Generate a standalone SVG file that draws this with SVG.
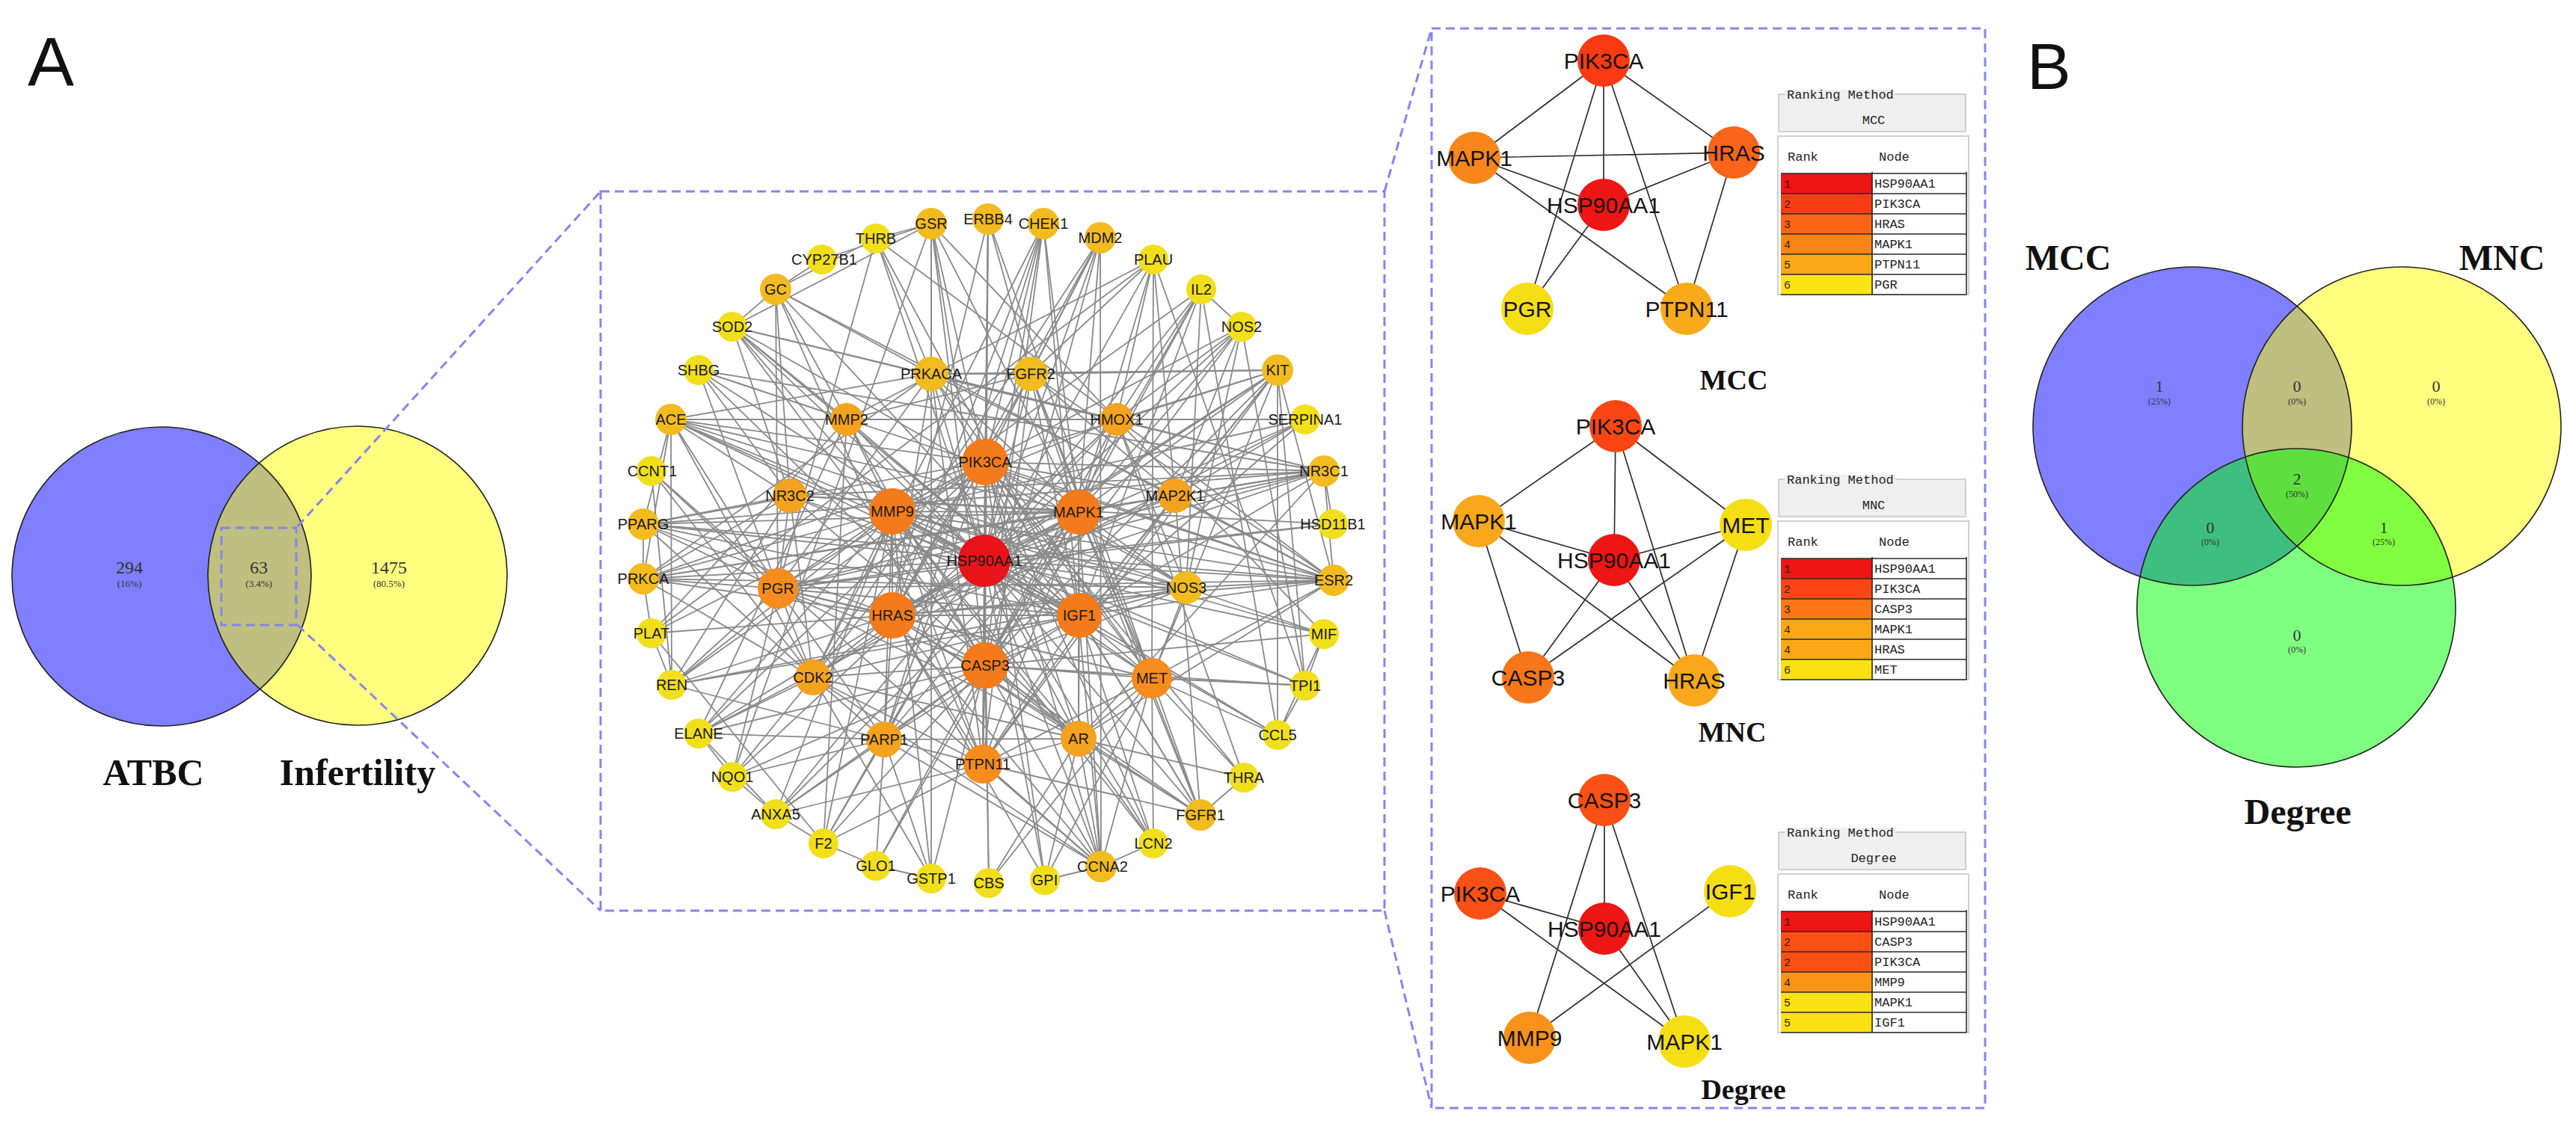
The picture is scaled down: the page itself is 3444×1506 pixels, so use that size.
<svg xmlns="http://www.w3.org/2000/svg" width="3444" height="1506" viewBox="0 0 3444 1506">
<style>
.edge{stroke:#8a8a8a;stroke-width:1.8;fill:none}
.sedge{stroke:#2e2e2e;stroke-width:1.7;fill:none}
.dash{fill:none;stroke:#8585ee;stroke-width:3;stroke-dasharray:12 7}
.nl{font-family:"Liberation Sans",Arial,sans-serif;font-size:20px;fill:#1a1a1a;text-anchor:middle}
.sl{font-family:"Liberation Sans",Arial,sans-serif;font-size:30px;fill:#141414;text-anchor:middle}
.ttl{font-family:"Liberation Serif","Times New Roman",serif;font-weight:bold;fill:#111;text-anchor:middle}
.big{font-family:"Liberation Sans",Arial,sans-serif;fill:#111}
.vn{font-family:"Liberation Serif","Times New Roman",serif;fill:#333;text-anchor:middle}
.tb{font-family:"Liberation Mono","Courier New",monospace;font-size:17px;fill:#222}
.tr{font-family:"Liberation Mono","Courier New",monospace;font-size:15px;fill:#3a1a00}
.tbox{fill:#efefef;stroke:#c4c4c4;stroke-width:1.5}
.tframe{fill:#fff;stroke:#d0d0d0;stroke-width:2}
.tline{stroke:#2a2a2a;stroke-width:1.6;fill:none}
.vo{fill:none;stroke:#222;stroke-width:1.6}
.red{fill:#e8141a}.o1{fill:#f47b1b}.o2{fill:#f58c1d}.o3{fill:#f4a31f}.g1{fill:#f2bb1f}.yl{fill:#f1df1c}
</style>
<rect width="3444" height="1506" fill="#fff"/>

<text class="big" x="37" y="115" font-size="93">A</text>
<text class="big" x="2710" y="119" font-size="88">B</text>

<!-- Venn A -->
<g id="venn-a">
<circle cx="216" cy="771" r="200" fill="#0000ff" fill-opacity="0.5"/>
<circle cx="478" cy="770" r="200" fill="#ffff00" fill-opacity="0.5"/>
<circle class="vo" cx="216" cy="771" r="200"/>
<circle class="vo" cx="478" cy="770" r="200"/>
<text class="vn" x="173" y="767" font-size="24">294</text>
<text class="vn" x="173" y="785" font-size="13">(16%)</text>
<text class="vn" x="346" y="767" font-size="24">63</text>
<text class="vn" x="346" y="785" font-size="13">(3.4%)</text>
<text class="vn" x="520" y="767" font-size="24">1475</text>
<text class="vn" x="520" y="785" font-size="13">(80.5%)</text>
<text class="ttl" x="205" y="1050" font-size="50">ATBC</text>
<text class="ttl" x="478" y="1050" font-size="50">Infertility</text>
</g>

<!-- callouts -->
<g id="callouts">
<rect class="dash" x="296" y="706" width="100" height="130"/>
<path class="dash" d="M398 704L803 256M398 836L803 1218"/>
<rect class="dash" x="803" y="256" width="1048" height="962"/>
<path class="dash" d="M1851 256L1914 38M1851 1218L1914 1482"/>
<rect class="dash" x="1914" y="38" width="740" height="1444"/>
</g>

<!-- network connectors -->
<g id="net-connectors" class="edge">
<path d="M1316 750L1317 618M1316 750L1193 684M1316 750L1442 685M1316 750L1193 823M1316 750L1443 823M1316 750L1317 890M1316 750L1040 787M1316 750L1540 907M1316 750L1314 1022M1316 750L1087 906M1316 750L1442 988M1316 750L1182 989M1316 750L1056 663M1316 750L1571 663M1316 750L1586 786M1316 750L1132 561M1316 750L1493 561M1316 750L1245 500M1316 750L1378 500M1316 750L1321 293M1316 750L1395 299M1316 750L1471 318M1316 750L1708 495M1316 750L1770 630M1316 750L1783 776M1316 750L860 701M1316 750L860 774M1316 750L897 561M1316 750L1245 299M1316 750L1605 1090M1316 750L1472 1159M1316 750L1397 1177M1316 750L1322 1181M1316 750L1542 1128M1316 750L934 981M1316 750L1660 437M1316 750L1606 387M1316 750L1542 347M1316 750L1745 561M1316 750L1745 917M1316 750L1770 848M1316 750L1101 1128M1316 750L1037 1089M1316 750L1782 701M1316 750L979 437M1316 750L1171 319"/>
<path d="M1317 618L1193 684M1317 618L1442 685M1317 618L1193 823M1317 618L1443 823M1317 618L1317 890M1317 618L1040 787M1317 618L1540 907M1317 618L1314 1022M1317 618L1087 906M1317 618L1442 988M1317 618L1182 989M1317 618L1571 663M1317 618L1586 786M1317 618L1245 500M1317 618L1378 500M1317 618L1321 293M1317 618L1708 495M1317 618L1783 776M1317 618L1605 1090M1317 618L1472 1159M1317 618L1770 630M1317 618L860 701M1317 618L860 774M1317 618L1245 299M1317 618L897 561M1317 618L1471 318M1317 618L1395 299M1317 618L1397 1177M1317 618L1542 1128M1317 618L898 916M1317 618L934 981M1317 618L1663 1040"/>
<path d="M1193 684L1442 685M1193 684L1193 823M1193 684L1443 823M1193 684L1317 890M1193 684L1040 787M1193 684L1540 907M1193 684L1314 1022M1193 684L1087 906M1193 684L1442 988M1193 684L1182 989M1193 684L1132 561M1193 684L1493 561M1193 684L1586 786M1193 684L897 561M1193 684L979 437M1193 684L934 981M1193 684L1037 1089M1193 684L1101 1128M1193 684L871 847M1193 684L898 916M1193 684L860 774M1193 684L1783 776M1193 684L1745 917M1193 684L1542 1128M1193 684L1708 983M1193 684L1606 387M1193 684L1660 437M1193 684L1745 561M1193 684L1770 848M1193 684L1245 1175"/>
<path d="M1442 685L1193 823M1442 685L1443 823M1442 685L1317 890M1442 685L1040 787M1442 685L1540 907M1442 685L1314 1022M1442 685L1087 906M1442 685L1442 988M1442 685L1182 989M1442 685L1571 663M1442 685L1586 786M1442 685L1245 500M1442 685L1378 500M1442 685L1493 561M1442 685L1783 776M1442 685L1770 630M1442 685L1708 495M1442 685L1605 1090M1442 685L1472 1159M1442 685L1245 299M1442 685L1471 318M1442 685L1395 299M1442 685L1542 347M1442 685L1606 387M1442 685L1660 437M1442 685L897 561M1442 685L860 701M1442 685L1056 663M1442 685L860 774M1442 685L1037 1089M1442 685L1171 1158"/>
<path d="M1193 823L1443 823M1193 823L1317 890M1193 823L1040 787M1193 823L1540 907M1193 823L1314 1022M1193 823L1087 906M1193 823L1442 988M1193 823L1182 989M1193 823L1571 663M1193 823L1586 786M1193 823L1245 500M1193 823L1378 500M1193 823L1708 495M1193 823L1783 776M1193 823L1605 1090M1193 823L1472 1159M1193 823L1321 293M1193 823L1471 318M1193 823L1395 299M1193 823L860 774M1193 823L860 701M1193 823L1770 630M1193 823L898 916M1193 823L871 847M1193 823L1397 1177"/>
<path d="M1443 823L1317 890M1443 823L1040 787M1443 823L1540 907M1443 823L1314 1022M1443 823L1087 906M1443 823L1442 988M1443 823L1182 989M1443 823L1571 663M1443 823L1586 786M1443 823L1056 663M1443 823L1378 500M1443 823L1783 776M1443 823L1708 495M1443 823L934 495M1443 823L897 561M1443 823L860 701M1443 823L1605 1090M1443 823L1132 561M1443 823L898 916M1443 823L1770 630M1443 823L1708 983M1443 823L1745 561M1443 823L1606 387M1443 823L1037 387M1443 823L1542 1128M1443 823L1171 319M1443 823L979 437"/>
<path d="M1317 890L1040 787M1317 890L1540 907M1317 890L1314 1022M1317 890L1087 906M1317 890L1442 988M1317 890L1182 989M1317 890L1132 561M1317 890L1493 561M1317 890L1586 786M1317 890L1245 1175M1317 890L1322 1181M1317 890L1171 1158M1317 890L1037 1089M1317 890L979 1039M1317 890L1101 1128M1317 890L934 981M1317 890L1745 917M1317 890L1770 848M1317 890L1395 299M1317 890L1471 318M1317 890L1321 293M1317 890L979 437M1317 890L1245 299M1317 890L1472 1159M1317 890L1605 1090M1317 890L1708 495M1317 890L1660 437M1317 890L1606 387"/>
<path d="M1040 787L1540 907M1040 787L1442 988M1040 787L1056 663M1040 787L1783 776M1040 787L860 701M1040 787L860 774M1040 787L934 495M1040 787L1770 630M1040 787L1171 319M1040 787L1087 906M1040 787L1182 989M1040 787L1245 500M1040 787L897 561M1040 787L871 630M1040 787L898 916M1040 787L1782 701M1040 787L1037 387M1040 787L979 1039"/>
<path d="M1540 907L1314 1022M1540 907L1442 988M1540 907L1605 1090M1540 907L1378 500M1540 907L1708 495M1540 907L1472 1159M1540 907L1542 1128M1540 907L1745 917M1540 907L1663 1040M1540 907L1708 983M1540 907L1783 776M1540 907L1586 786M1540 907L1245 500M1540 907L1321 293M1540 907L1542 347M1540 907L1397 1177M1540 907L1322 1181"/>
<path d="M1314 1022L1442 988M1314 1022L1087 906M1314 1022L1182 989M1314 1022L1708 495M1314 1022L1378 500M1314 1022L1605 1090M1314 1022L1321 293M1314 1022L1571 663M1314 1022L1245 500M1314 1022L1037 387M1314 1022L1472 1159M1314 1022L1037 1089M1314 1022L1101 1128"/>
<path d="M1087 906L1442 988M1087 906L1182 989M1087 906L1472 1159M1087 906L1395 299M1087 906L1471 318M1087 906L871 630M1087 906L934 981M1087 906L979 1039M1087 906L860 701M1087 906L860 774M1087 906L897 561M1087 906L1245 1175M1087 906L1056 663"/>
<path d="M1442 988L1182 989M1442 988L1783 776M1442 988L1770 630M1442 988L1472 1159M1442 988L1605 1090M1442 988L1663 1040M1442 988L1056 663M1442 988L1397 1177M1442 988L1322 1181M1442 988L1542 1128M1442 988L934 495"/>
<path d="M1182 989L1395 299M1182 989L1472 1159M1182 989L1245 1175M1182 989L1171 1158M1182 989L1101 1128M1182 989L979 1039M1182 989L1037 1089M1182 989L934 981M1182 989L898 916"/>
<path d="M1056 663L1770 630M1056 663L860 701M1056 663L860 774M1056 663L897 561M1056 663L934 495M1056 663L898 916M1056 663L1782 701M1056 663L979 437M1056 663L1037 387"/>
<path d="M1571 663L1245 500M1571 663L1378 500M1571 663L1708 495M1571 663L1783 776M1571 663L1770 630M1571 663L860 774M1571 663L1605 1090M1571 663L1542 347M1571 663L1660 437M1571 663L1745 561"/>
<path d="M1586 786L1660 437M1586 786L1493 561M1586 786L897 561M1586 786L898 916M1586 786L1783 776M1586 786L860 774M1586 786L979 437M1586 786L1606 387M1586 786L1770 848"/>
<path d="M1132 561L1542 347M1132 561L1745 561M1132 561L897 561M1132 561L934 981M1132 561L1101 1128M1132 561L871 847M1132 561L1378 500M1132 561L934 495M1132 561L979 437M1132 561L1037 387"/>
<path d="M1493 561L1660 437M1493 561L1606 387M1493 561L979 437M1493 561L979 1039M1493 561L1245 299M1493 561L1542 347M1493 561L1708 495M1493 561L1770 848M1493 561L1663 1040"/>
<path d="M1245 500L860 774M1245 500L1245 299M1245 500L1171 319M1245 500L1378 500M1245 500L1708 495M1245 500L1037 387M1245 500L897 561M1245 500L1770 630"/>
<path d="M1378 500L1605 1090M1378 500L1321 293M1378 500L1708 495M1378 500L1542 347M1378 500L1783 776M1378 500L1471 318"/>
<path d="M1037 387L1099 347M1037 387L1171 319M1037 387L979 437M1099 347L1245 299M1171 319L1245 299M979 437L1245 299M897 561L860 701M897 561L898 916M897 561L860 774M860 701L860 774M871 630L898 916M860 774L871 847M934 981L979 1039M979 1039L1037 1089M1037 1089L1101 1128M1101 1128L1171 1158M1101 1128L871 847M1397 1177L1472 1159M1472 1159L1542 1128M1770 848L1745 917M1745 917L1708 983M1708 983L1770 848M1770 630L1782 701M1770 630L1783 776M1606 387L1708 983M1606 387L1660 437M1745 561L934 981M1542 347L871 847M1708 495L1708 983M1708 495L1783 776M1708 495L1745 917M1245 299L1245 1175M1245 299L979 1039M1660 437L1745 917M1542 347L1745 917M1471 318L1472 1159M1395 299L1472 1159M934 495L1783 776M934 495L1770 630M1037 387L1783 776M1171 319L1783 776M979 437L1770 630M871 630L1472 1159M860 701L1783 776M860 701L1770 630M1171 1158L1245 1175M934 981L1037 1089M898 916L871 847M1663 1040L1605 1090"/>
</g>

<!-- network nodes -->
<g id="net-nodes">
<g id="n-GSR"><circle class="g1" cx="1245" cy="299" r="21"/><text class="nl" x="1245" y="306">GSR</text></g>
<g id="n-ERBB4"><circle class="g1" cx="1321" cy="293" r="21"/><text class="nl" x="1321" y="300">ERBB4</text></g>
<g id="n-CHEK1"><circle class="g1" cx="1395" cy="299" r="21"/><text class="nl" x="1395" y="306">CHEK1</text></g>
<g id="n-THRB"><circle class="yl" cx="1171" cy="319" r="20"/><text class="nl" x="1171" y="326">THRB</text></g>
<g id="n-MDM2"><circle class="g1" cx="1471" cy="318" r="21"/><text class="nl" x="1471" y="325">MDM2</text></g>
<g id="n-CYP27B1"><circle class="yl" cx="1099" cy="347" r="20"/><text class="nl" x="1102" y="354">CYP27B1</text></g>
<g id="n-PLAU"><circle class="yl" cx="1542" cy="347" r="20"/><text class="nl" x="1542" y="354">PLAU</text></g>
<g id="n-GC"><circle class="g1" cx="1037" cy="387" r="21"/><text class="nl" x="1037" y="394">GC</text></g>
<g id="n-IL2"><circle class="yl" cx="1606" cy="387" r="20"/><text class="nl" x="1606" y="394">IL2</text></g>
<g id="n-SOD2"><circle class="yl" cx="979" cy="437" r="20"/><text class="nl" x="979" y="444">SOD2</text></g>
<g id="n-NOS2"><circle class="yl" cx="1660" cy="437" r="20"/><text class="nl" x="1660" y="444">NOS2</text></g>
<g id="n-SHBG"><circle class="yl" cx="934" cy="495" r="20"/><text class="nl" x="934" y="502">SHBG</text></g>
<g id="n-PRKACA"><circle class="g1" cx="1245" cy="500" r="23"/><text class="nl" x="1245" y="507">PRKACA</text></g>
<g id="n-FGFR2"><circle class="g1" cx="1378" cy="500" r="23"/><text class="nl" x="1378" y="507">FGFR2</text></g>
<g id="n-KIT"><circle class="g1" cx="1708" cy="495" r="21"/><text class="nl" x="1708" y="502">KIT</text></g>
<g id="n-ACE"><circle class="g1" cx="897" cy="561" r="21"/><text class="nl" x="897" y="568">ACE</text></g>
<g id="n-MMP2"><circle class="o3" cx="1132" cy="561" r="22"/><text class="nl" x="1132" y="568">MMP2</text></g>
<g id="n-HMOX1"><circle class="o3" cx="1493" cy="561" r="22"/><text class="nl" x="1493" y="568">HMOX1</text></g>
<g id="n-SERPINA1"><circle class="yl" cx="1745" cy="561" r="20"/><text class="nl" x="1745" y="568">SERPINA1</text></g>
<g id="n-CCNT1"><circle class="yl" cx="871" cy="630" r="20"/><text class="nl" x="872" y="637">CCNT1</text></g>
<g id="n-PIK3CA"><circle class="o1" cx="1317" cy="618" r="31"/><text class="nl" x="1317" y="625">PIK3CA</text></g>
<g id="n-NR3C1"><circle class="g1" cx="1770" cy="630" r="21"/><text class="nl" x="1770" y="637">NR3C1</text></g>
<g id="n-NR3C2"><circle class="o3" cx="1056" cy="663" r="23"/><text class="nl" x="1056" y="670">NR3C2</text></g>
<g id="n-MMP9"><circle class="o1" cx="1193" cy="684" r="31"/><text class="nl" x="1193" y="691">MMP9</text></g>
<g id="n-MAPK1"><circle class="o1" cx="1442" cy="685" r="30"/><text class="nl" x="1442" y="692">MAPK1</text></g>
<g id="n-MAP2K1"><circle class="o3" cx="1571" cy="663" r="23"/><text class="nl" x="1571" y="670">MAP2K1</text></g>
<g id="n-PPARG"><circle class="g1" cx="860" cy="701" r="21"/><text class="nl" x="860" y="708">PPARG</text></g>
<g id="n-HSD11B1"><circle class="yl" cx="1782" cy="701" r="20"/><text class="nl" x="1782" y="708">HSD11B1</text></g>
<g id="n-HSP90AA1"><circle class="red" cx="1316" cy="750" r="35"/><text class="nl" x="1316" y="757">HSP90AA1</text></g>
<g id="n-PRKCA"><circle class="g1" cx="860" cy="774" r="21"/><text class="nl" x="860" y="781">PRKCA</text></g>
<g id="n-PGR"><circle class="o2" cx="1040" cy="787" r="27"/><text class="nl" x="1040" y="794">PGR</text></g>
<g id="n-NOS3"><circle class="g1" cx="1586" cy="786" r="22"/><text class="nl" x="1586" y="793">NOS3</text></g>
<g id="n-ESR2"><circle class="g1" cx="1783" cy="776" r="21"/><text class="nl" x="1783" y="783">ESR2</text></g>
<g id="n-HRAS"><circle class="o1" cx="1193" cy="823" r="31"/><text class="nl" x="1193" y="830">HRAS</text></g>
<g id="n-IGF1"><circle class="o1" cx="1443" cy="823" r="30"/><text class="nl" x="1443" y="830">IGF1</text></g>
<g id="n-PLAT"><circle class="yl" cx="871" cy="847" r="20"/><text class="nl" x="871" y="854">PLAT</text></g>
<g id="n-MIF"><circle class="yl" cx="1770" cy="848" r="20"/><text class="nl" x="1770" y="855">MIF</text></g>
<g id="n-CASP3"><circle class="o1" cx="1317" cy="890" r="31"/><text class="nl" x="1317" y="897">CASP3</text></g>
<g id="n-CDK2"><circle class="o3" cx="1087" cy="906" r="24"/><text class="nl" x="1087" y="913">CDK2</text></g>
<g id="n-MET"><circle class="o2" cx="1540" cy="907" r="27"/><text class="nl" x="1540" y="914">MET</text></g>
<g id="n-REN"><circle class="yl" cx="898" cy="916" r="20"/><text class="nl" x="898" y="923">REN</text></g>
<g id="n-TPI1"><circle class="yl" cx="1745" cy="917" r="20"/><text class="nl" x="1745" y="924">TPI1</text></g>
<g id="n-ELANE"><circle class="yl" cx="934" cy="981" r="20"/><text class="nl" x="934" y="988">ELANE</text></g>
<g id="n-PARP1"><circle class="o3" cx="1182" cy="989" r="24"/><text class="nl" x="1182" y="996">PARP1</text></g>
<g id="n-AR"><circle class="o3" cx="1442" cy="988" r="24"/><text class="nl" x="1442" y="995">AR</text></g>
<g id="n-CCL5"><circle class="yl" cx="1708" cy="983" r="20"/><text class="nl" x="1708" y="990">CCL5</text></g>
<g id="n-PTPN11"><circle class="o2" cx="1314" cy="1022" r="26"/><text class="nl" x="1314" y="1029">PTPN11</text></g>
<g id="n-NQO1"><circle class="yl" cx="979" cy="1039" r="20"/><text class="nl" x="979" y="1046">NQO1</text></g>
<g id="n-THRA"><circle class="yl" cx="1663" cy="1040" r="20"/><text class="nl" x="1663" y="1047">THRA</text></g>
<g id="n-ANXA5"><circle class="yl" cx="1037" cy="1089" r="20"/><text class="nl" x="1037" y="1096">ANXA5</text></g>
<g id="n-FGFR1"><circle class="g1" cx="1605" cy="1090" r="21"/><text class="nl" x="1605" y="1097">FGFR1</text></g>
<g id="n-F2"><circle class="yl" cx="1101" cy="1128" r="20"/><text class="nl" x="1101" y="1135">F2</text></g>
<g id="n-LCN2"><circle class="yl" cx="1542" cy="1128" r="20"/><text class="nl" x="1542" y="1135">LCN2</text></g>
<g id="n-GLO1"><circle class="yl" cx="1171" cy="1158" r="20"/><text class="nl" x="1171" y="1165">GLO1</text></g>
<g id="n-CCNA2"><circle class="g1" cx="1472" cy="1159" r="21"/><text class="nl" x="1474" y="1166">CCNA2</text></g>
<g id="n-GSTP1"><circle class="yl" cx="1245" cy="1175" r="20"/><text class="nl" x="1245" y="1182">GSTP1</text></g>
<g id="n-CBS"><circle class="yl" cx="1322" cy="1181" r="20"/><text class="nl" x="1322" y="1188">CBS</text></g>
<g id="n-GPI"><circle class="yl" cx="1397" cy="1177" r="20"/><text class="nl" x="1397" y="1184">GPI</text></g>
</g>

<!-- sub-network connectors -->
<g id="sub-connectors" class="sedge">
<path d="M2144 81L1971 211M2144 81L2318 204M2144 81L2144 274M2144 81L2042 413M2144 81L2255 413M1971 211L2318 204M1971 211L2144 274M1971 211L2255 413M2318 204L2144 274M2318 204L2255 413M2144 274L2042 413"/>
<path d="M2160 570L1977 697M2160 570L2334 702M2160 570L2158 749M2160 570L2265 910M1977 697L2158 749M1977 697L2043 906M1977 697L2265 910M2334 702L2158 749M2334 702L2043 906M2334 702L2265 910M2158 749L2043 906M2158 749L2265 910"/>
<path d="M2145 1070L2145 1242M2145 1070L2045 1388M2145 1070L2252 1393M1979 1195L2145 1242M1979 1195L2252 1393M2145 1242L2252 1393M2313 1192L2045 1388"/>
</g>

<!-- MCC sub-network -->
<g id="mcc-PIK3CA"><circle cx="2144" cy="81" r="35" fill="#f93a12"/><text class="sl" x="2144" y="92">PIK3CA</text></g>
<g id="mcc-MAPK1"><circle cx="1971" cy="211" r="35" fill="#f8861a"/><text class="sl" x="1971" y="222">MAPK1</text></g>
<g id="mcc-HRAS"><circle cx="2318" cy="204" r="35" fill="#f8641a"/><text class="sl" x="2318" y="215">HRAS</text></g>
<g id="mcc-HSP90AA1"><circle cx="2144" cy="274" r="35" fill="#ee1515"/><text class="sl" x="2144" y="285">HSP90AA1</text></g>
<g id="mcc-PGR"><circle cx="2042" cy="413" r="35" fill="#f5de14"/><text class="sl" x="2042" y="424">PGR</text></g>
<g id="mcc-PTPN11"><circle cx="2255" cy="413" r="35" fill="#f8aa1a"/><text class="sl" x="2255" y="424">PTPN11</text></g>
<text class="ttl" x="2318" y="521" font-size="38">MCC</text>

<!-- MNC sub-network -->
<g id="mnc-PIK3CA"><circle cx="2160" cy="570" r="35" fill="#f94614"/><text class="sl" x="2160" y="581">PIK3CA</text></g>
<g id="mnc-MAPK1"><circle cx="1977" cy="697" r="35" fill="#f8a81a"/><text class="sl" x="1977" y="708">MAPK1</text></g>
<g id="mnc-MET"><circle cx="2334" cy="702" r="35" fill="#f5de14"/><text class="sl" x="2334" y="713">MET</text></g>
<g id="mnc-HSP90AA1"><circle cx="2158" cy="749" r="35" fill="#ee1515"/><text class="sl" x="2158" y="760">HSP90AA1</text></g>
<g id="mnc-CASP3"><circle cx="2043" cy="906" r="35" fill="#f8761a"/><text class="sl" x="2043" y="917">CASP3</text></g>
<g id="mnc-HRAS"><circle cx="2265" cy="910" r="35" fill="#f8a81a"/><text class="sl" x="2265" y="921">HRAS</text></g>
<text class="ttl" x="2316" y="992" font-size="38">MNC</text>

<!-- Degree sub-network -->
<g id="deg-CASP3"><circle cx="2145" cy="1070" r="35" fill="#f85016"/><text class="sl" x="2145" y="1081">CASP3</text></g>
<g id="deg-PIK3CA"><circle cx="1979" cy="1195" r="35" fill="#f85016"/><text class="sl" x="1979" y="1206">PIK3CA</text></g>
<g id="deg-IGF1"><circle cx="2313" cy="1192" r="35" fill="#f5de14"/><text class="sl" x="2313" y="1203">IGF1</text></g>
<g id="deg-HSP90AA1"><circle cx="2145" cy="1242" r="35" fill="#ee1515"/><text class="sl" x="2145" y="1253">HSP90AA1</text></g>
<g id="deg-MMP9"><circle cx="2045" cy="1388" r="35" fill="#f8921a"/><text class="sl" x="2045" y="1399">MMP9</text></g>
<g id="deg-MAPK1"><circle cx="2252" cy="1393" r="35" fill="#f5de14"/><text class="sl" x="2252" y="1404">MAPK1</text></g>
<text class="ttl" x="2331" y="1470" font-size="38">Degree</text>

<!-- tables -->
<g id="table-mcc" transform="translate(0,232)">
<rect class="tbox" x="2378" y="-106" width="250" height="50"/>
<rect x="2386" y="-112" width="148" height="12" fill="#efefef"/>
<text class="tb" x="2389" y="-100">Ranking Method</text>
<text class="tb" x="2505" y="-66" text-anchor="middle">MCC</text>
<rect class="tframe" x="2377" y="-50" width="255" height="212"/>
<text class="tb" x="2390" y="-17">Rank</text><text class="tb" x="2512" y="-17">Node</text>
<rect x="2381" y="0" width="122" height="27" fill="#ee1515"/>
<rect x="2381" y="27" width="122" height="27" fill="#fa3c14"/>
<rect x="2381" y="54" width="122" height="27" fill="#fa6414"/>
<rect x="2381" y="81" width="122" height="27" fill="#fa8414"/>
<rect x="2381" y="108" width="122" height="27" fill="#faa818"/>
<rect x="2381" y="135" width="122" height="27" fill="#fae414"/>
<path class="tline" d="M2381 0H2629M2381 27H2629M2381 54H2629M2381 81H2629M2381 108H2629M2381 135H2629M2381 162H2629M2503 -2V162M2629 -2V162"/>
<text class="tr" x="2385" y="19">1</text><text class="tr" x="2385" y="46">2</text><text class="tr" x="2385" y="73">3</text><text class="tr" x="2385" y="100">4</text><text class="tr" x="2385" y="127">5</text><text class="tr" x="2385" y="154">6</text>
<text class="tb" x="2506" y="19">HSP90AA1</text><text class="tb" x="2506" y="46">PIK3CA</text><text class="tb" x="2506" y="73">HRAS</text><text class="tb" x="2506" y="100">MAPK1</text><text class="tb" x="2506" y="127">PTPN11</text><text class="tb" x="2506" y="154">PGR</text>
</g>

<g id="table-mnc" transform="translate(0,747)">
<rect class="tbox" x="2378" y="-106" width="250" height="50"/>
<rect x="2386" y="-112" width="148" height="12" fill="#efefef"/>
<text class="tb" x="2389" y="-100">Ranking Method</text>
<text class="tb" x="2505" y="-66" text-anchor="middle">MNC</text>
<rect class="tframe" x="2377" y="-50" width="255" height="212"/>
<text class="tb" x="2390" y="-17">Rank</text><text class="tb" x="2512" y="-17">Node</text>
<rect x="2381" y="0" width="122" height="27" fill="#ee1515"/>
<rect x="2381" y="27" width="122" height="27" fill="#fa4614"/>
<rect x="2381" y="54" width="122" height="27" fill="#fa7814"/>
<rect x="2381" y="81" width="122" height="27" fill="#fba814"/>
<rect x="2381" y="108" width="122" height="27" fill="#fba814"/>
<rect x="2381" y="135" width="122" height="27" fill="#fae014"/>
<path class="tline" d="M2381 0H2629M2381 27H2629M2381 54H2629M2381 81H2629M2381 108H2629M2381 135H2629M2381 162H2629M2503 -2V162M2629 -2V162"/>
<text class="tr" x="2385" y="19">1</text><text class="tr" x="2385" y="46">2</text><text class="tr" x="2385" y="73">3</text><text class="tr" x="2385" y="100">4</text><text class="tr" x="2385" y="127">4</text><text class="tr" x="2385" y="154">6</text>
<text class="tb" x="2506" y="19">HSP90AA1</text><text class="tb" x="2506" y="46">PIK3CA</text><text class="tb" x="2506" y="73">CASP3</text><text class="tb" x="2506" y="100">MAPK1</text><text class="tb" x="2506" y="127">HRAS</text><text class="tb" x="2506" y="154">MET</text>
</g>

<g id="table-degree" transform="translate(0,1219)">
<rect class="tbox" x="2378" y="-106" width="250" height="50"/>
<rect x="2386" y="-112" width="148" height="12" fill="#efefef"/>
<text class="tb" x="2389" y="-100">Ranking Method</text>
<text class="tb" x="2505" y="-66" text-anchor="middle">Degree</text>
<rect class="tframe" x="2377" y="-50" width="255" height="212"/>
<text class="tb" x="2390" y="-17">Rank</text><text class="tb" x="2512" y="-17">Node</text>
<rect x="2381" y="0" width="122" height="27" fill="#ee1515"/>
<rect x="2381" y="27" width="122" height="27" fill="#fa5014"/>
<rect x="2381" y="54" width="122" height="27" fill="#fa5014"/>
<rect x="2381" y="81" width="122" height="27" fill="#fb9414"/>
<rect x="2381" y="108" width="122" height="27" fill="#fae014"/>
<rect x="2381" y="135" width="122" height="27" fill="#fae014"/>
<path class="tline" d="M2381 0H2629M2381 27H2629M2381 54H2629M2381 81H2629M2381 108H2629M2381 135H2629M2381 162H2629M2503 -2V162M2629 -2V162"/>
<text class="tr" x="2385" y="19">1</text><text class="tr" x="2385" y="46">2</text><text class="tr" x="2385" y="73">2</text><text class="tr" x="2385" y="100">4</text><text class="tr" x="2385" y="127">5</text><text class="tr" x="2385" y="154">5</text>
<text class="tb" x="2506" y="19">HSP90AA1</text><text class="tb" x="2506" y="46">CASP3</text><text class="tb" x="2506" y="73">PIK3CA</text><text class="tb" x="2506" y="100">MMP9</text><text class="tb" x="2506" y="127">MAPK1</text><text class="tb" x="2506" y="154">IGF1</text>
</g>

<!-- Venn B -->
<g id="venn-b">
<circle cx="2931" cy="570" r="213" fill="#0000ff" fill-opacity="0.5"/>
<circle cx="3211" cy="570" r="213" fill="#ffff00" fill-opacity="0.5"/>
<circle cx="3070" cy="813" r="213" fill="#00ff00" fill-opacity="0.5"/>
<circle class="vo" cx="2931" cy="570" r="213"/>
<circle class="vo" cx="3211" cy="570" r="213"/>
<circle class="vo" cx="3070" cy="813" r="213"/>
<text class="vn" x="2887" y="524" font-size="22">1</text><text class="vn" x="2887" y="541" font-size="12">(25%)</text>
<text class="vn" x="3071" y="524" font-size="22">0</text><text class="vn" x="3071" y="541" font-size="12">(0%)</text>
<text class="vn" x="3257" y="524" font-size="22">0</text><text class="vn" x="3257" y="541" font-size="12">(0%)</text>
<text class="vn" x="3071" y="648" font-size="22">2</text><text class="vn" x="3071" y="665" font-size="12">(50%)</text>
<text class="vn" x="2955" y="713" font-size="22">0</text><text class="vn" x="2955" y="729" font-size="12">(0%)</text>
<text class="vn" x="3187" y="713" font-size="22">1</text><text class="vn" x="3187" y="729" font-size="12">(25%)</text>
<text class="vn" x="3071" y="857" font-size="22">0</text><text class="vn" x="3071" y="873" font-size="12">(0%)</text>
<text class="ttl" x="2765" y="361" font-size="48">MCC</text>
<text class="ttl" x="3345" y="361" font-size="48">MNC</text>
<text class="ttl" x="3072" y="1102" font-size="48">Degree</text>
</g>
</svg>
